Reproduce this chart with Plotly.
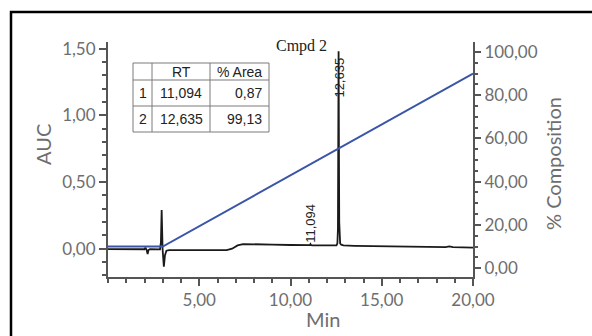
import plotly.graph_objects as go

# ---- data ----
time_min = [0.0, 0.5, 1.0, 1.5, 2.0, 2.05, 2.12, 2.17, 2.22, 2.3, 2.6, 2.85, 2.9, 2.94, 2.99,
            3.06, 3.12, 3.2, 3.35, 4.0, 5.0, 6.0, 6.5, 6.8, 7.1, 7.4, 8.0, 9.0, 10.0, 11.0,
            11.06, 11.094, 11.13, 11.2, 12.0, 12.45, 12.52, 12.57, 12.6, 12.615, 12.635,
            12.655, 12.67, 12.69, 12.72, 12.78, 12.9, 13.5, 15.0, 17.0, 18.5, 18.7, 18.9, 20.0]
auc = [-0.003, -0.004, -0.005, -0.005, -0.004, 0.008, -0.01, -0.04, -0.01, -0.004, -0.004,
       -0.005, 0.05, 0.29, 0.0, -0.135, -0.05, -0.015, -0.01, -0.011, -0.012, -0.012, -0.011,
       0.0, 0.025, 0.035, 0.035, 0.031, 0.028, 0.025, 0.027, 0.035, 0.027, 0.025, 0.023,
       0.022, 0.025, 0.04, 0.15, 0.7, 1.48, 0.7, 0.2, 0.08, 0.04, 0.03, 0.025, 0.022, 0.018,
       0.014, 0.012, 0.017, 0.012, 0.008]

grad_time = [0.0, 3.0, 20.0]
grad_comp = [10.0, 10.0, 90.0]

peak_rt = [11.094, 12.635]
peak_label = ["11,094", "12,635"]
peak_label_y = [0.19, 1.28]

table_hdr = ["", "RT", "% Area"]
table_idx = ["1", "2"]
table_rt = ["11,094", "12,635"]
table_area = ["0,87", "99,13"]

x_ticks = [5, 10, 15, 20]

# ---- figure ----
W, H = 592, 336
L, R, T, B = 108, 119, 42, 59
pw, ph = W - L - R, H - T - B


def px(x):
    return (x - L) / pw


def py(y):
    return (H - B - y) / ph


tick_font = dict(family="Lato, Open Sans, sans-serif", size=17, color="#6e6e6e")
title_font = dict(family="Lato, Open Sans, sans-serif", size=20, color="#6e6e6e")
table_font = dict(family="Liberation Sans, Arial", size=14, color="#222")
axis_col = "#555555"

fig = go.Figure()
fig.add_trace(go.Scatter(x=time_min, y=auc, mode="lines",
                         line=dict(color="#1a1a1a", width=1.8), yaxis="y",
                         showlegend=False, hoverinfo="skip"))
fig.add_trace(go.Scatter(x=grad_time, y=grad_comp, mode="lines",
                         line=dict(color="#3b55a8", width=2), yaxis="y2",
                         showlegend=False, hoverinfo="skip"))

annotations = []
shapes = [dict(type="rect", xref="paper", yref="paper",
               x0=px(11), x1=2.0, y0=-1.0, y1=py(12),
               line=dict(color="black", width=2.5), fillcolor="rgba(0,0,0,0)", layer="below")]

# ---- results table (drawn with shapes + text) ----
col_edges = [133, 152, 210, 269]
row_edges = [63, 80, 106, 132]
tline = dict(color="#7a7a7a", width=1)
shapes.append(dict(type="rect", xref="paper", yref="paper",
                   x0=px(col_edges[0]), x1=px(col_edges[-1]),
                   y0=py(row_edges[-1]), y1=py(row_edges[0]),
                   line=tline, fillcolor="white", layer="above"))
for cx in col_edges[1:-1]:
    shapes.append(dict(type="line", xref="paper", yref="paper", x0=px(cx), x1=px(cx),
                       y0=py(row_edges[-1]), y1=py(row_edges[0]), line=tline))
for ry in row_edges[1:-1]:
    shapes.append(dict(type="line", xref="paper", yref="paper", x0=px(col_edges[0]),
                       x1=px(col_edges[-1]), y0=py(ry), y1=py(ry), line=tline))

rows = [table_hdr] + [list(r) for r in zip(table_idx, table_rt, table_area)]
aligns = ["center", "center", "right"]
for ri, row in enumerate(rows):
    yc = (row_edges[ri] + row_edges[ri + 1]) / 2
    for ci, txt in enumerate(row):
        if not txt:
            continue
        if aligns[ci] == "center":
            xx, xa = (col_edges[ci] + col_edges[ci + 1]) / 2, "center"
        else:
            xx, xa = col_edges[ci + 1] - 5, "right"
        annotations.append(dict(x=px(xx), y=py(yc), xref="paper", yref="paper", text=txt,
                                showarrow=False, xanchor=xa, yanchor="middle",
                                font=table_font))

for rt, lab, yy in zip(peak_rt, peak_label, peak_label_y):
    annotations.append(dict(x=rt, y=yy, xref="x", yref="y", text=lab, showarrow=False,
                            textangle=-90, xanchor="center", yanchor="middle",
                            font=dict(family="Liberation Sans, Arial", size=13, color="#222")))
annotations += [
    dict(x=px(43), y=py(145), xref="paper", yref="paper", text="AUC", showarrow=False,
         textangle=-90, xanchor="center", yanchor="middle", font=title_font),
    dict(x=px(553), y=py(164), xref="paper", yref="paper", text="% Composition",
         showarrow=False, textangle=-90, xanchor="center", yanchor="middle", font=title_font),
    dict(x=px(323), y=py(319), xref="paper", yref="paper", text="Min", showarrow=False,
         xanchor="center", yanchor="middle", font=title_font),
    dict(x=px(301), y=py(46), xref="paper", yref="paper", text="Cmpd 2", showarrow=False,
         xanchor="center", yanchor="middle",
         font=dict(family="Liberation Serif, Times New Roman, serif", size=16, color="#222")),
]

fig.update_layout(
    width=W, height=H,
    margin=dict(l=L, r=R, t=T, b=B, pad=0),
    paper_bgcolor="white", plot_bgcolor="white",
    separators=", ",
    showlegend=False,
    xaxis=dict(range=[0, 20], tickvals=x_ticks, tickformat=".2f",
               showline=True, linecolor=axis_col, linewidth=2,
               ticks="outside", ticklen=7, tickwidth=2, tickcolor=axis_col,
               minor=dict(dtick=1, ticks="outside", ticklen=4, tickwidth=2, tickcolor=axis_col),
               showgrid=False, zeroline=False, tickfont=tick_font),
    yaxis=dict(range=[-0.212, 1.55], dtick=0.5, tick0=0, tickformat=".2f",
               showline=True, linecolor=axis_col, linewidth=2,
               ticks="outside", ticklen=7, tickwidth=2, tickcolor=axis_col,
               minor=dict(dtick=0.1, tick0=0, ticks="outside", ticklen=4, tickwidth=2,
                          tickcolor=axis_col),
               showgrid=False, zeroline=False, tickfont=tick_font),
    yaxis2=dict(range=[-4.1, 104.6], dtick=20, tick0=0, tickformat=".2f",
                overlaying="y", side="right",
                showline=True, linecolor=axis_col, linewidth=2,
                ticks="outside", ticklen=6, tickwidth=2, tickcolor=axis_col,
                minor=dict(dtick=5, tick0=0, ticks="outside", ticklen=3, tickwidth=2,
                           tickcolor=axis_col),
                showgrid=False, zeroline=False, tickfont=tick_font),
    annotations=annotations,
    shapes=shapes,
)

fig.write_html("out.html", config={"displayModeBar": False},
               post_script="document.body.style.margin='0';")
